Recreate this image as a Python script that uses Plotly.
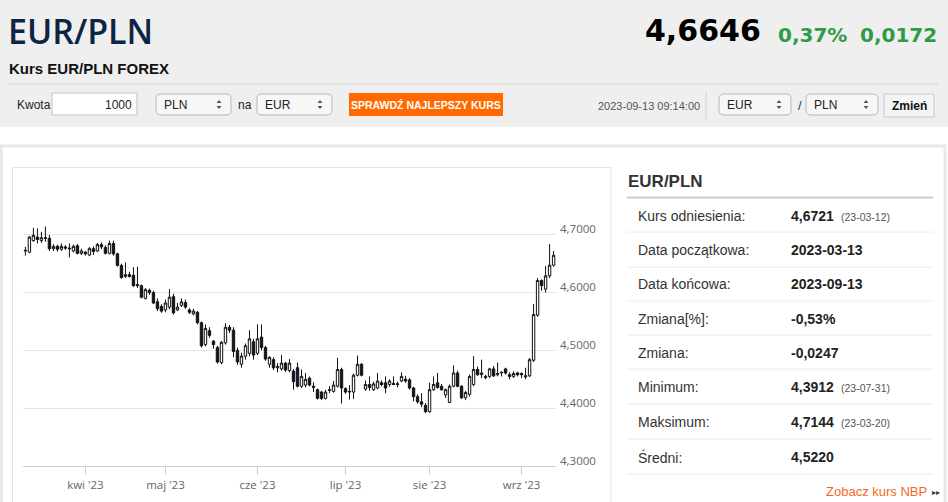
import plotly.graph_objects as go
import pandas as pd

W, H = 948, 502

# ---------------- data ----------------
dates = list(pd.bdate_range("2023-03-13", "2023-09-13"))

open_ = [4.672, 4.670, 4.690, 4.696, 4.690, 4.695, 4.694, 4.676, 4.680, 4.675,
         4.679, 4.677, 4.672, 4.681, 4.668, 4.670, 4.665, 4.676, 4.672, 4.683,
         4.678, 4.668, 4.685, 4.667, 4.647, 4.628, 4.631, 4.630, 4.614, 4.612,
         4.590, 4.604, 4.600, 4.584, 4.576, 4.570, 4.575, 4.593, 4.570, 4.578,
         4.583, 4.570, 4.563, 4.566, 4.548, 4.510, 4.534, 4.516, 4.505, 4.479,
         4.513, 4.540, 4.535, 4.500, 4.476, 4.490, 4.495, 4.515, 4.495, 4.523,
         4.505, 4.476, 4.484, 4.470, 4.468, 4.478, 4.465, 4.464, 4.470, 4.438,
         4.440, 4.452, 4.438, 4.432, 4.428, 4.417, 4.432, 4.429, 4.438, 4.467,
         4.434, 4.428, 4.428, 4.457, 4.476, 4.433, 4.441, 4.432, 4.435, 4.444,
         4.444, 4.441, 4.443, 4.441, 4.447, 4.450, 4.449, 4.435, 4.420, 4.411,
         4.405, 4.394, 4.432, 4.444, 4.438, 4.423, 4.410, 4.438, 4.461, 4.438,
         4.418, 4.424, 4.441, 4.467, 4.458, 4.455, 4.455, 4.468, 4.458, 4.461,
         4.468, 4.458, 4.455, 4.461, 4.460, 4.454, 4.456, 4.483, 4.561, 4.621,
         4.606, 4.629, 4.6474]

high = [4.679, 4.698, 4.712, 4.711, 4.705, 4.7144, 4.700, 4.684, 4.683, 4.685,
        4.682, 4.685, 4.683, 4.684, 4.676, 4.672, 4.679, 4.680, 4.686, 4.687,
        4.682, 4.690, 4.690, 4.669, 4.650, 4.652, 4.636, 4.644, 4.645, 4.614,
        4.608, 4.607, 4.603, 4.590, 4.580, 4.588, 4.606, 4.598, 4.582, 4.590,
        4.588, 4.573, 4.572, 4.568, 4.550, 4.545, 4.540, 4.518, 4.508, 4.516,
        4.547, 4.544, 4.540, 4.505, 4.496, 4.512, 4.535, 4.520, 4.545, 4.545,
        4.508, 4.490, 4.488, 4.478, 4.492, 4.480, 4.485, 4.468, 4.479, 4.467,
        4.461, 4.455, 4.445, 4.434, 4.430, 4.432, 4.438, 4.447, 4.487, 4.470,
        4.436, 4.440, 4.460, 4.491, 4.478, 4.448, 4.455, 4.446, 4.461, 4.448,
        4.455, 4.450, 4.455, 4.446, 4.462, 4.456, 4.452, 4.437, 4.424, 4.426,
        4.409, 4.444, 4.455, 4.461, 4.442, 4.434, 4.441, 4.474, 4.465, 4.440,
        4.430, 4.458, 4.490, 4.472, 4.484, 4.458, 4.470, 4.473, 4.479, 4.464,
        4.470, 4.462, 4.464, 4.463, 4.462, 4.470, 4.487, 4.580, 4.625, 4.623,
        4.646, 4.684, 4.672]

low = [4.664, 4.668, 4.688, 4.685, 4.686, 4.688, 4.672, 4.672, 4.671, 4.672,
       4.674, 4.661, 4.670, 4.666, 4.665, 4.664, 4.663, 4.665, 4.670, 4.675,
       4.666, 4.666, 4.664, 4.645, 4.624, 4.625, 4.626, 4.610, 4.608, 4.590,
       4.588, 4.596, 4.580, 4.568, 4.565, 4.566, 4.571, 4.562, 4.568, 4.575,
       4.572, 4.563, 4.561, 4.545, 4.505, 4.507, 4.522, 4.503, 4.477, 4.476,
       4.510, 4.530, 4.488, 4.475, 4.470, 4.484, 4.490, 4.484, 4.492, 4.500,
       4.482, 4.470, 4.466, 4.462, 4.465, 4.463, 4.462, 4.432, 4.436, 4.435,
       4.436, 4.438, 4.428, 4.415, 4.414, 4.415, 4.426, 4.427, 4.436, 4.408,
       4.425, 4.415, 4.416, 4.455, 4.455, 4.430, 4.430, 4.430, 4.433, 4.438,
       4.426, 4.437, 4.440, 4.436, 4.445, 4.444, 4.432, 4.412, 4.408, 4.402,
       4.3912, 4.392, 4.430, 4.434, 4.430, 4.418, 4.409, 4.436, 4.436, 4.416,
       4.414, 4.420, 4.438, 4.456, 4.452, 4.450, 4.452, 4.454, 4.455, 4.455,
       4.458, 4.450, 4.452, 4.455, 4.452, 4.450, 4.454, 4.480, 4.558, 4.603,
       4.600, 4.625, 4.645]

close = [4.673, 4.696, 4.699, 4.692, 4.695, 4.694, 4.676, 4.680, 4.675, 4.680,
         4.677, 4.676, 4.680, 4.668, 4.672, 4.667, 4.676, 4.671, 4.683, 4.679,
         4.668, 4.685, 4.667, 4.647, 4.626, 4.631, 4.628, 4.612, 4.612, 4.592,
         4.605, 4.600, 4.582, 4.572, 4.568, 4.582, 4.592, 4.565, 4.575, 4.584,
         4.575, 4.566, 4.568, 4.548, 4.508, 4.538, 4.526, 4.510, 4.480, 4.514,
         4.540, 4.535, 4.498, 4.480, 4.490, 4.508, 4.520, 4.492, 4.520, 4.505,
         4.485, 4.488, 4.470, 4.472, 4.478, 4.466, 4.478, 4.446, 4.438, 4.455,
         4.450, 4.440, 4.436, 4.417, 4.417, 4.428, 4.431, 4.440, 4.467, 4.435,
         4.428, 4.429, 4.457, 4.476, 4.457, 4.441, 4.436, 4.442, 4.447, 4.441,
         4.435, 4.447, 4.441, 4.442, 4.455, 4.447, 4.435, 4.420, 4.411, 4.407,
         4.394, 4.432, 4.441, 4.436, 4.432, 4.432, 4.438, 4.461, 4.438, 4.418,
         4.427, 4.455, 4.467, 4.458, 4.461, 4.453, 4.468, 4.456, 4.460, 4.462,
         4.461, 4.455, 4.460, 4.458, 4.458, 4.456, 4.484, 4.562, 4.621, 4.612,
         4.629, 4.6474, 4.6646]

month_labels = ["kwi '23", "maj '23", "cze '23", "lip '23", "sie '23", "wrz '23"]
ytick_values = [4.3, 4.4, 4.5, 4.6, 4.7, 4.8]
ytick_labels = ["4,3000", "4,4000", "4,5000", "4,6000", "4,7000", ""]

stat_labels = ["Kurs odniesienia:", "Data początkowa:", "Data końcowa:", "Zmiana[%]:",
               "Zmiana:", "Minimum:", "Maksimum:", "Średni:"]
stat_values = ["4,6721", "2023-03-13", "2023-09-13", "-0,53%", "-0,0247",
               "4,3912", "4,7144", "4,5220"]
stat_notes = ["(23-03-12)", "", "", "", "", "(23-07-31)", "(23-03-20)", ""]

pair = "EUR/PLN"
last_price = "4,6646"
change_pct = "0,37%"
change_abs = "0,0172"
timestamp = "2023-09-13 09:14:00"

# ---------------- helpers ----------------
idx = list(range(len(dates)))
month_idx = []
seen = set()
for i, d in enumerate(dates):
    key = (d.year, d.month)
    if key not in seen:
        seen.add(key)
        if i > 0:
            month_idx.append(i)


def X(px):
    return px / W


def Y(py):
    return 1 - py / H


shapes = []
annotations = []
SANS = "Liberation Sans, Arial, sans-serif"


def rect(x0, y0, x1, y1, fill, line=None, lw=1, layer="below"):
    shapes.append(dict(type="rect", xref="paper", yref="paper",
                       x0=X(x0), x1=X(x1), y0=Y(y1), y1=Y(y0),
                       fillcolor=fill,
                       line=dict(color=line if line else "rgba(0,0,0,0)", width=lw if line else 0),
                       layer=layer))


def hline(x0, x1, y, color, lw=1):
    shapes.append(dict(type="line", xref="paper", yref="paper",
                       x0=X(x0), x1=X(x1), y0=Y(y), y1=Y(y),
                       line=dict(color=color, width=lw), layer="below"))


def vline(x, y0, y1, color, lw=1):
    shapes.append(dict(type="line", xref="paper", yref="paper",
                       x0=X(x), x1=X(x), y0=Y(y0), y1=Y(y1),
                       line=dict(color=color, width=lw), layer="below"))


def P(x, y):
    return f"{X(x):.6f},{Y(y):.6f}"


def rrect(x0, y0, x1, y1, r, fill, line, lw=1):
    path = (f"M {P(x0 + r, y0)} L {P(x1 - r, y0)} Q {P(x1, y0)} {P(x1, y0 + r)} "
            f"L {P(x1, y1 - r)} Q {P(x1, y1)} {P(x1 - r, y1)} "
            f"L {P(x0 + r, y1)} Q {P(x0, y1)} {P(x0, y1 - r)} "
            f"L {P(x0, y0 + r)} Q {P(x0, y0)} {P(x0 + r, y0)} Z")
    shapes.append(dict(type="path", xref="paper", yref="paper", path=path,
                       fillcolor=fill, line=dict(color=line, width=lw), layer="below"))


def tri(cx, cy, up, color="#555555"):
    if up:
        path = f"M {P(cx - 2.5, cy + 1.5)} L {P(cx + 2.5, cy + 1.5)} L {P(cx, cy - 1.5)} Z"
    else:
        path = f"M {P(cx - 2.5, cy - 1.5)} L {P(cx + 2.5, cy - 1.5)} L {P(cx, cy + 1.5)} Z"
    shapes.append(dict(type="path", xref="paper", yref="paper", path=path,
                       fillcolor=color, line=dict(width=0), layer="below"))


def text(px, py, s, size, color="#333333", family=SANS, weight="normal", anchor="left"):
    annotations.append(dict(x=X(px), y=Y(py), xref="paper", yref="paper", text=s,
                            showarrow=False, xanchor=anchor, yanchor="middle",
                            borderpad=0,
                            font=dict(size=size, color=color, family=family, weight=weight)))


def select(x0, x1, label):
    rrect(x0, 94, x1, 115, 5, "#f7f7f7", "#b8b8b8")
    text(x0 + 7, 104.5, label, 12, "#222222")
    tri(x1 - 12, 101.5, True)
    tri(x1 - 12, 107.5, False)


# ---------------- page background ----------------
rect(0, 0, W, 127, "#efefef")
hline(8, 938, 84, "#d6d6d6", 1)
rect(1.5, 146, 945, 520, "#ffffff", "#e8e8e8", 3)
rect(12.5, 167.5, 611, 515, "#ffffff", "#e4e4e4", 1)

# header texts
text(7, 31, pair, 34, "#0d2544", "Open Sans, sans-serif", weight=600)
text(8, 68, "Kurs " + pair + " FOREX", 15, "#111111", SANS, weight="bold")
text(762, 31, last_price, 30, "#000000", "DejaVu Sans, sans-serif", weight="bold", anchor="right")
text(848, 35, change_pct, 20, "#2e9c47", "DejaVu Sans, sans-serif", weight="bold", anchor="right")
text(938, 35, change_abs, 20, "#2e9c47", "DejaVu Sans, sans-serif", weight="bold", anchor="right")

# controls row
text(16, 105, "Kwota", 12, "#222222")
rect(52, 93, 137, 115, "#ffffff", "#c4c4c4", 1)
text(133, 104.5, "1000", 12, "#222222", anchor="right")
select(156, 231, "PLN")
text(237, 105, "na", 12, "#222222")
select(257, 332, "EUR")
rect(349, 93, 503, 116, "#ff6a00")
text(426, 104.5, "SPRAWDŹ NAJLEPSZY KURS", 10.5, "#ffffff", SANS, weight="bold", anchor="center")
text(597, 106, timestamp, 11, "#555555")
vline(706, 92, 120, "#d0d0d0", 1)
select(719, 791, "EUR")
text(797, 105, "/", 13, "#333333")
select(806, 878, "PLN")
rect(884, 94, 934, 117, "#f4f4f4", "#c8c8c8", 1)
text(909, 105.5, "Zmień", 12, "#111111", SANS, weight="bold", anchor="center")

# right panel
text(627, 181, pair, 17, "#333333", SANS, weight="bold")
hline(627, 933, 197.5, "#cccccc", 2)
row_y = [216, 250, 284, 319, 353, 387, 422, 457]
row_sep = [232, 267, 301, 335, 369, 404, 439, 474]
for yy in row_sep:
    hline(627, 933, yy, "#ececec", 1)
for lab, val, note, yy in zip(stat_labels, stat_values, stat_notes, row_y):
    text(637, yy, lab, 14, "#333333")
    text(790, yy, val, 14, "#222222", SANS, weight="bold")
    if note:
        text(840, yy + 1, note, 10.5, "#555555")
text(928, 491, "Zobacz kurs NBP", 13, "#f26a21", anchor="right")
text(931, 492, "▸▸", 8, "#333333", "DejaVu Sans, sans-serif")

# y tick labels (Highcharts places them slightly above the grid lines)
for v, lab in zip(ytick_values, ytick_labels):
    if lab:
        annotations.append(dict(x=X(559), y=v, xref="paper", yref="y", text=lab,
                                showarrow=False, xanchor="left", yanchor="middle",
                                yshift=6, borderpad=0,
                                font=dict(size=11.5, color="#666666",
                                          family="Open Sans, sans-serif")))

# ---------------- chart ----------------
fig = go.Figure(go.Candlestick(
    x=idx, open=open_, high=high, low=low, close=close,
    increasing=dict(line=dict(color="#111111", width=1), fillcolor="#ffffff"),
    decreasing=dict(line=dict(color="#111111", width=1), fillcolor="#0b1830"),
    whiskerwidth=0, showlegend=False, hoverinfo="skip",
))

fig.update_layout(
    width=W, height=H,
    margin=dict(l=0, r=0, t=0, b=0),
    paper_bgcolor="#ffffff",
    plot_bgcolor="rgba(0,0,0,0)",
    boxgap=0.15,
    shapes=shapes,
    annotations=annotations,
    showlegend=False,
    xaxis=dict(domain=[X(23), X(556)], range=[-0.6, 132.6],
               tickvals=month_idx, ticktext=month_labels,
               ticks="outside", ticklen=8, tickcolor="#c0d0e0",
               showline=True, linecolor="#c0d0e0", linewidth=1,
               showgrid=False, zeroline=False,
               tickfont=dict(size=11.5, color="#666666", family="Open Sans, sans-serif"),
               rangeslider=dict(visible=False), fixedrange=True),
    yaxis=dict(domain=[Y(466), Y(177)], range=[4.30, 4.80],
               tickvals=ytick_values, showticklabels=False,
               showgrid=True, gridcolor="#e3e3e3", gridwidth=1,
               zeroline=False, showline=False, side="right", fixedrange=True),
)

fig.write_html("out.html", config={"displayModeBar": False},
               post_script="document.body.style.margin='0';")
